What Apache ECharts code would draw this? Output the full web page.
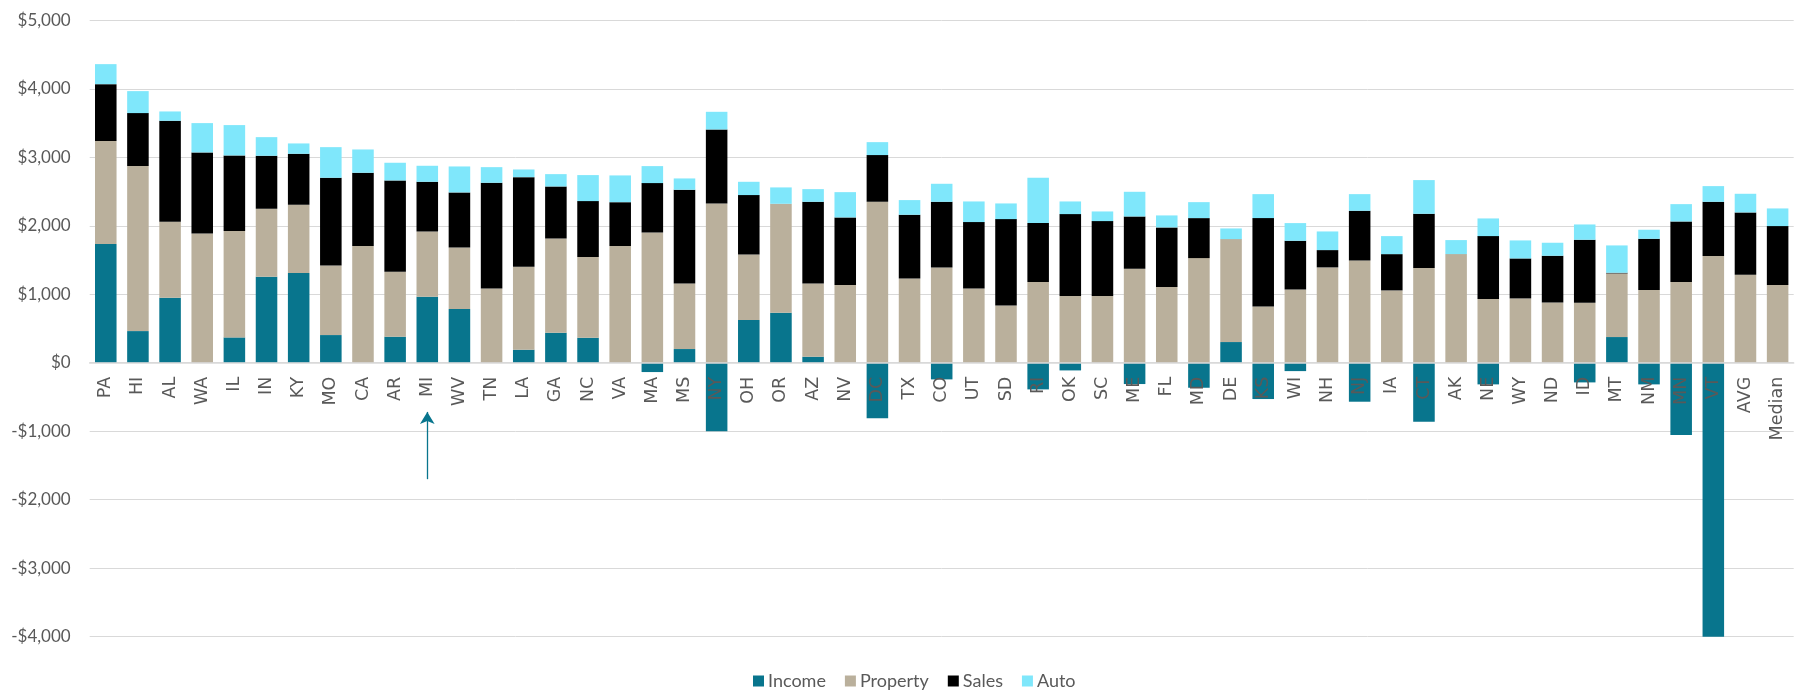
<!DOCTYPE html>
<html>
<head>
<meta charset="utf-8">
<script src="https://cdn.jsdelivr.net/npm/echarts@6/dist/echarts.min.js"></script>
<style>
html,body{margin:0;padding:0;background:#fff;}
#chart{width:1795px;height:691px;}
</style>
</head>
<body>
<div id="chart"></div>
<script>
var categories = ['PA','HI','AL','WA','IL','IN','KY','MO','CA','AR','MI','WV','TN','LA','GA','NC','VA','MA','MS','NY','OH','OR','AZ','NV','DC','TX','CO','UT','SD','RI','OK','SC','ME','FL','MD','DE','KS','WI','NH','NJ','IA','CT','AK','NE','WY','ND','ID','MT','NM','MN','VT','AVG','Median'];
var income   = [1732,462,949,0,370,1255,1309,404,0,380,964,783,0,190,438,365,0,-136,200,-1000,623,730,88,0,-812,0,-243,0,0,-389,-112,0,-311,0,-365,302,-530,-122,0,-569,0,-861,0,-316,0,0,-287,375,-316,-1056,-4000,0,0];
var property = [1504,2409,1109,1888,1552,993,998,1017,1703,948,953,901,1085,1211,1377,1178,1703,1903,958,2326,959,1591,1070,1134,2350,1231,1392,1085,837,1178,973,973,1372,1105,1528,1503,822,1071,1392,1494,1056,1382,1586,929,939,881,876,929,1061,1178,1557,1285,1134];
var sales    = [832,774,1475,1183,1105,774,744,1280,1071,1334,725,803,1543,1309,759,817,642,720,1368,1080,866,0,1192,988,682,930,958,969,1260,861,1197,1095,764,871,584,0,1290,710,253,725,530,793,0,920,584,681,920,10,749,885,793,910,861];
var auto     = [292,321,136,428,443,272,151,447,340,258,234,379,228,112,180,380,390,248,165,258,194,239,185,369,189,214,263,301,229,662,185,141,360,175,233,156,350,258,272,243,263,492,205,258,263,190,223,399,132,253,229,272,258];
var seriesNames = ['Income','Property','Sales','Auto'];
var yTicks = {min:-4000, max:5000, step:1000};
var arrowFrom = ['MI', -1700];
var arrowTo = ['MI', -718];

var colors = ['#08758D','#BAB09C','#000000','#7FE7FB'];
var values = [income, property, sales, auto];

function fmt(v){
  var s = Math.abs(v).toString().replace(/\B(?=(\d{3})+(?!\d))/g, ',');
  return (v < 0 ? '-$' : '$') + s;
}

var series = seriesNames.map(function(n, i){
  var s = {
    name: n,
    type: 'bar',
    stack: 'total',
    z: 1,
    data: values[i],
    barCategoryGap: '33%',
    itemStyle: {color: colors[i]},
    emphasis: {disabled: true}
  };
  if (i === 0) {
    s.markLine = {
      silent: true,
      symbol: ['none','arrow'],
      symbolSize: [11, 12],
      label: {show: false},
      lineStyle: {color: '#08758D', width: 1.3, type: 'solid'},
      data: [[{coord: arrowFrom}, {coord: arrowTo}]]
    };
  }
  return s;
});

var chart = echarts.init(document.getElementById('chart'), null, {renderer:'canvas'});
chart.setOption({
  animation: false,
  color: colors,
  grid: {left: 89.7, right: 1.3, top: 20.3, bottom: 54.3, containLabel: false, outerBoundsMode: 'none'},
  legend: {
    data: seriesNames,
    left: 748, top: 667,
    itemWidth: 11, itemHeight: 11, itemGap: 19,
    icon: 'rect',
    textStyle: {fontFamily: 'Lato', fontSize: 18, color: '#595959', padding: [0,0,0,-1]}
  },
  xAxis: {
    type: 'category',
    data: categories,
    position: 'bottom',
    z: 10,
    axisLine: {onZero: false, lineStyle: {color: '#D9D9D9', width: 1.5}},
    axisTick: {show: false},
    axisLabel: {
      interval: 0, rotate: 90, margin: 14,
      fontFamily: 'DejaVu Sans', fontSize: 17.5, color: '#595959'
    }
  },
  yAxis: {
    type: 'value',
    z: 0,
    min: yTicks.min, max: yTicks.max, interval: yTicks.step,
    axisLine: {show: false},
    axisTick: {show: false},
    splitLine: {lineStyle: {color: '#D9D9D9', width: 1}},
    axisLabel: {
      formatter: fmt, margin: 19,
      fontFamily: 'Lato', fontSize: 17, color: '#595959'
    }
  },
  series: series
});
// move the category axis up to the zero line using the library's own scale
var yZero = chart.convertToPixel({yAxisIndex: 0}, 0);
var yMin = chart.convertToPixel({yAxisIndex: 0}, yTicks.min);
chart.setOption({xAxis: {offset: -(yMin - yZero)}});
</script>
</body>
</html>
